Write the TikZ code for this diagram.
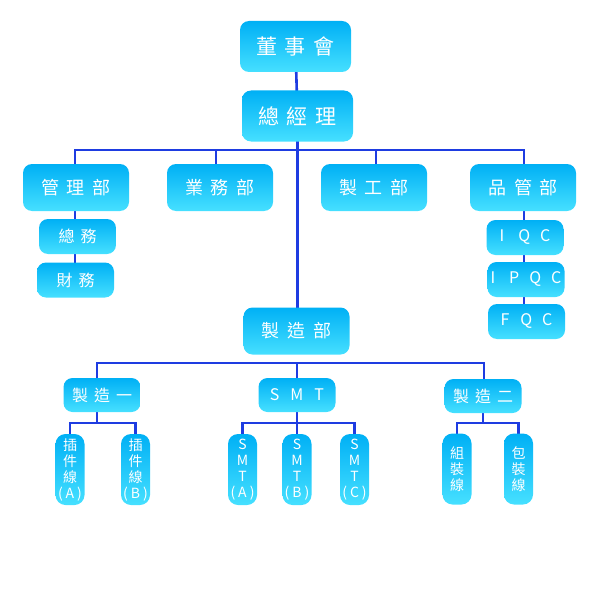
\documentclass[tikz,border=0pt]{standalone}
\usepackage{fontspec}
\setmainfont{Noto Sans CJK TC}
\usetikzlibrary{backgrounds}
\definecolor{boxtop}{RGB}{0,176,245}
\definecolor{boxbot}{RGB}{70,224,255}
\definecolor{linkblue}{RGB}{30,60,225}
\tikzset{
  boxbase/.style={rounded corners=9pt, top color=boxtop, bottom color=boxbot, text=white, inner sep=0pt, align=center, draw=none},
  bigbox/.style={boxbase, minimum width=111pt, minimum height=51pt, font=\fontsize{21}{24}\selectfont},
  deptbox/.style={boxbase, minimum width=106pt, minimum height=47pt, font=\fontsize{18}{21}\selectfont},
  smallbox/.style={boxbase, minimum width=77pt, minimum height=35pt, font=\fontsize{16}{19}\selectfont},
  leafbox/.style={boxbase, rounded corners=10pt, minimum width=29pt, minimum height=71pt, font=\fontsize{14}{16}\selectfont},
  link/.style={draw=linkblue, line width=2.6pt}
}
\newcommand{\gp}{\hspace{8pt}}
\newcommand{\sg}{\hspace{6pt}}
\newcommand{\pp}{\hspace{3pt}}
\begin{document}
\begin{tikzpicture}[x=1pt,y=-1pt]
\useasboundingbox (0,0) rectangle (591,591);
% top level
\node[bigbox] (dsh) at (295.5,46.5) {董\gp 事\gp 會};
\node[bigbox] (zjl) at (297.5,116) {總\gp 經\gp 理};
% departments
\node[deptbox] (glb) at (76,187.5) {管\gp 理\gp 部};
\node[deptbox] (ywb) at (220,187.5) {業\gp 務\gp 部};
\node[deptbox] (zgb) at (374,187.5) {製\gp 工\gp 部};
\node[deptbox] (pgb) at (523,187.5) {品\gp 管\gp 部};
% sub of management
\node[smallbox] (zw) at (77.5,236.5) {總\sg 務};
\node[smallbox] (cw) at (75.5,280) {財\sg 務};
% sub of QC
\node[smallbox] (iqc) at (525,237.5) {I\hspace{14pt}Q\hspace{10pt}C};
\node[smallbox] (ipqc) at (526,279.5) {I\hspace{14pt}P\hspace{10pt}Q\hspace{10pt}C};
\node[smallbox] (fqc) at (526.5,321.5) {F\hspace{11pt}Q\hspace{10pt}C};
% manufacturing
\node[deptbox] (zzb) at (296.5,331) {製\gp 造\gp 部};
\node[smallbox,minimum height=34pt] (zz1) at (102,395) {製\sg 造\sg 一};
\node[smallbox,minimum height=34pt] (smt) at (297,395) {S\hspace{11pt}M\hspace{11pt}T};
\node[smallbox,minimum height=34pt] (zz2) at (483,396) {製\sg 造\sg 二};
% leaves
\node[leafbox] (xa) at (70,469.5) {插\\件\\線\\(\pp A\pp)};
\node[leafbox] (xb) at (135.5,469.5) {插\\件\\線\\(\pp B\pp)};
\node[leafbox] (sa) at (242.5,469.5) {S\\M\\T\\(\pp A\pp)};
\node[leafbox] (sb) at (297,469.5) {S\\M\\T\\(\pp B\pp)};
\node[leafbox] (sc) at (354.5,469.5) {S\\M\\T\\(\pp C\pp)};
\node[leafbox] (zx) at (457,469) {組\\裝\\線};
\node[leafbox] (bx) at (518.5,469) {包\\裝\\線};
% bar coordinates
\coordinate (bar1) at (0,150);
\coordinate (bar2) at (0,363);
\coordinate (bar3) at (0,423);
\begin{scope}[on background layer]
  \draw[link] (dsh.center) -- (zjl.center);
  \draw[link] (zjl.center) -- (zjl.center |- zzb.center);
  \draw[link] ([xshift=-1pt]glb.center) -- ([xshift=-1pt]glb.center |- bar1) -- ([xshift=1pt]pgb.center |- bar1) -- ([xshift=1pt]pgb.center);
  \draw[link] ([xshift=-4pt]ywb.center) -- ([xshift=-4pt]ywb.center |- bar1);
  \draw[link] ([xshift=2pt]zgb.center) -- ([xshift=2pt]zgb.center |- bar1);
  \draw[link] ([xshift=-1pt]glb.center) -- ([xshift=-1pt]glb.center |- cw.center);
  \draw[link] ([xshift=1pt]pgb.center) -- ([xshift=1pt]pgb.center |- fqc.center);
  \draw[link] ([xshift=-5pt]zz1.center) -- ([xshift=-5pt]zz1.center |- bar2) -- ([xshift=1pt]zz2.center |- bar2) -- ([xshift=1pt]zz2.center);
  \draw[link] (smt.center) -- (smt.center |- bar2);
  \draw[link] ([xshift=-5pt]zz1.center) -- ([xshift=-5pt]zz1.center |- bar3);
  \draw[link] (xa.center) -- (xa.center |- bar3) -- (xb.center |- bar3) -- (xb.center);
  \draw[link] (smt.center) -- (smt.center |- bar3);
  \draw[link] (sa.center) -- (sa.center |- bar3) -- (sc.center |- bar3) -- (sc.center);
  \draw[link] (sb.center) -- (sb.center |- bar3);
  \draw[link] (zx.center) -- (zx.center |- bar3) -- (bx.center |- bar3) -- (bx.center);
  \draw[link] (zz2.center) -- (zz2.center |- bar3);
\end{scope}
\end{tikzpicture}
\end{document}
